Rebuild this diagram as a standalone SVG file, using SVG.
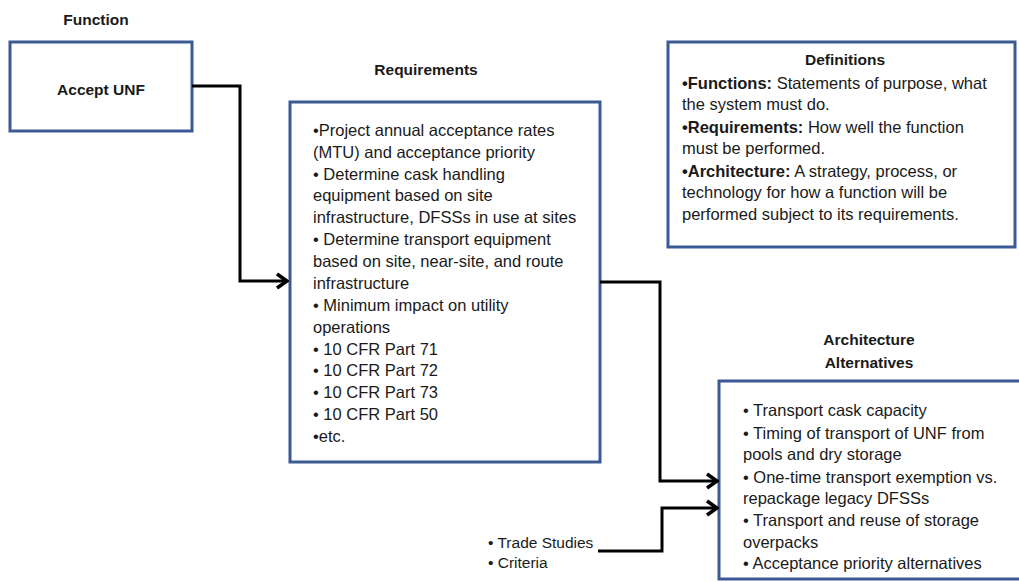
<svg xmlns="http://www.w3.org/2000/svg" width="1019" height="582" viewBox="0 0 1019 582">
  <style>
    .box { fill: #ffffff; stroke: #3b5a94; stroke-width: 3; }
    .title { font-family: "Liberation Sans", Arial, sans-serif; font-size: 15.5px; font-weight: bold; fill: #1a1a1a; text-anchor: middle; }
    .body { font-family: "Liberation Sans", Arial, sans-serif; font-size: 16.5px; fill: #1a1a1a; }
    .small { font-family: "Liberation Sans", Arial, sans-serif; font-size: 15.5px; fill: #1a1a1a; }
    .body tspan.b { font-weight: bold; }
    .wire { fill: none; stroke: #000000; stroke-width: 3; stroke-linejoin: miter; }
  </style>
  <defs>
    <marker id="chevron" markerUnits="userSpaceOnUse" markerWidth="16" markerHeight="20" viewBox="-14 -10 16 20" refX="0" refY="0" orient="auto">
      <polyline points="-10,-7 0,0 -10,7" fill="none" stroke="#000000" stroke-width="3.5" stroke-linejoin="miter"/>
    </marker>
  </defs>
  <rect width="1019" height="582" fill="#ffffff"/>

  <!-- Function -->
  <g id="function">
    <text class="title" x="96" y="25">Function</text>
    <rect class="box" x="10" y="42" width="182" height="89"/>
    <text class="title" x="101" y="95">Accept UNF</text>
  </g>

  <!-- Requirements -->
  <g id="requirements">
    <text class="title" x="426" y="75">Requirements</text>
    <rect class="box" x="290" y="102" width="310" height="360"/>
    <text class="body">
      <tspan x="313" y="136">•Project annual acceptance rates</tspan>
      <tspan x="313" y="158">(MTU) and acceptance priority</tspan>
      <tspan x="313" y="180">• Determine cask handling</tspan>
      <tspan x="313" y="201">equipment based on site</tspan>
      <tspan x="313" y="223">infrastructure, DFSSs in use at sites</tspan>
      <tspan x="313" y="245">• Determine transport equipment</tspan>
      <tspan x="313" y="267">based on site, near-site, and route</tspan>
      <tspan x="313" y="289">infrastructure</tspan>
      <tspan x="313" y="311">• Minimum impact on utility</tspan>
      <tspan x="313" y="333">operations</tspan>
      <tspan x="313" y="355">• 10 CFR Part 71</tspan>
      <tspan x="313" y="376">• 10 CFR Part 72</tspan>
      <tspan x="313" y="398">• 10 CFR Part 73</tspan>
      <tspan x="313" y="420">• 10 CFR Part 50</tspan>
      <tspan x="313" y="442">•etc.</tspan>
    </text>
  </g>

  <!-- Definitions -->
  <g id="definitions">
    <rect class="box" x="668" y="42" width="347" height="205"/>
    <text class="title" x="845" y="65">Definitions</text>
    <text class="body">
      <tspan x="682" y="89"><tspan class="b">•Functions:</tspan> Statements of purpose, what</tspan>
      <tspan x="682" y="110">the system must do.</tspan>
      <tspan x="682" y="133"><tspan class="b">•Requirements:</tspan>  How well the function</tspan>
      <tspan x="682" y="154">must be performed.</tspan>
      <tspan x="682" y="177"><tspan class="b">•Architecture:</tspan>  A strategy, process, or</tspan>
      <tspan x="682" y="198">technology for how a function will be</tspan>
      <tspan x="682" y="220">performed subject to its requirements.</tspan>
    </text>
  </g>

  <!-- Architecture Alternatives -->
  <g id="architecture">
    <text class="title" x="869" y="345">Architecture</text>
    <text class="title" x="869" y="368">Alternatives</text>
    <rect class="box" x="719" y="381" width="310" height="198"/>
    <text class="body">
      <tspan x="743" y="416">• Transport cask capacity</tspan>
      <tspan x="743" y="439">• Timing of transport of UNF from</tspan>
      <tspan x="743" y="460">pools and dry storage</tspan>
      <tspan x="743" y="483">• One-time transport exemption vs.</tspan>
      <tspan x="743" y="504">repackage legacy DFSSs</tspan>
      <tspan x="743" y="526">• Transport and reuse of storage</tspan>
      <tspan x="743" y="548">overpacks</tspan>
      <tspan x="743" y="569">• Acceptance priority alternatives</tspan>
    </text>
  </g>

  <!-- Trade studies input -->
  <g id="trade-studies">
    <text class="small">
      <tspan x="488" y="548">• Trade Studies</tspan>
      <tspan x="488" y="568">• Criteria</tspan>
    </text>
  </g>

  <!-- Connectors -->
  <g id="connectors">
    <path class="wire" d="M192,86 H240 V281 H287" marker-end="url(#chevron)"/>
    <path class="wire" d="M600,282 H660 V481 H717" marker-end="url(#chevron)"/>
    <path class="wire" d="M598,551 H662 V508 H717" marker-end="url(#chevron)"/>
  </g>
</svg>
